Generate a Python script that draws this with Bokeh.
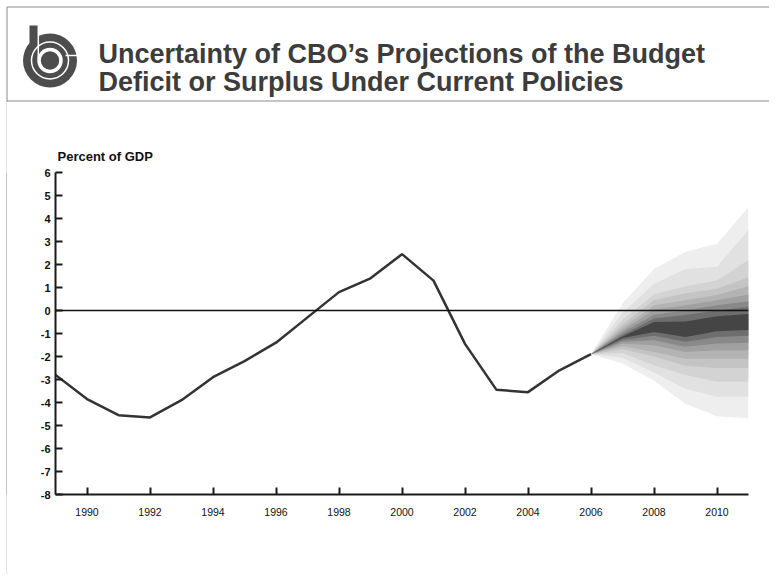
from bokeh.plotting import figure
from bokeh.models import Range1d, FixedTicker, Span
from bokeh.layouts import column, row
from bokeh.embed import file_html
from bokeh.resources import INLINE
from bokeh.core.properties import value

# ---------------- data ----------------
title_lines = ["Uncertainty of CBO\u2019s Projections of the Budget",
               "Deficit or Surplus Under Current Policies"]
y_unit_label = "Percent of GDP"

hist_years = [1989, 1990, 1991, 1992, 1993, 1994, 1995, 1996, 1997,
              1998, 1999, 2000, 2001, 2002, 2003, 2004, 2005, 2006]
hist_values = [-2.8, -3.85, -4.55, -4.65, -3.9, -2.9, -2.2, -1.4, -0.3,
               0.8, 1.4, 2.45, 1.3, -1.45, -3.45, -3.55, -2.6, -1.9]

fan_years = [2006, 2007, 2008, 2009, 2010, 2011]
# bands from outermost (lightest) to innermost (darkest)
fan_upper = [
    [-1.9, 0.3, 1.8, 2.55, 2.9, 4.5],
    [-1.9, -0.1, 1.15, 1.8, 1.9, 3.5],
    [-1.9, -0.4, 0.7, 1.05, 1.3, 2.2],
    [-1.9, -0.6, 0.45, 0.75, 0.95, 1.45],
    [-1.9, -0.75, 0.23, 0.45, 0.67, 1.05],
    [-1.9, -0.87, 0.04, 0.22, 0.45, 0.7],
    [-1.9, -0.97, -0.18, 0.0, 0.23, 0.4],
    [-1.9, -1.06, -0.35, -0.2, 0.0, 0.15],
    [-1.9, -1.13, -0.5, -0.48, -0.25, -0.15],
]
fan_lower = [
    [-1.9, -2.3, -3.05, -4.05, -4.6, -4.7],
    [-1.9, -2.05, -2.7, -3.4, -3.75, -3.75],
    [-1.9, -1.85, -2.38, -2.8, -3.1, -3.1],
    [-1.9, -1.68, -2.0, -2.4, -2.5, -2.5],
    [-1.9, -1.55, -1.8, -2.1, -2.1, -2.1],
    [-1.9, -1.45, -1.51, -1.8, -1.73, -1.73],
    [-1.9, -1.36, -1.29, -1.58, -1.43, -1.4],
    [-1.9, -1.28, -1.1, -1.36, -1.15, -1.1],
    [-1.9, -1.2, -0.93, -1.15, -0.9, -0.85],
]
fan_colors = ["#eeeeee", "#e1e1e1", "#d3d3d3", "#c4c4c4", "#b3b3b3",
              "#a0a0a0", "#898989", "#6e6e6e", "#454545"]

x_ticks = [1990, 1992, 1994, 1996, 1998, 2000, 2002, 2004, 2006, 2008, 2010]
y_ticks = [-8, -7, -6, -5, -4, -3, -2, -1, 0, 1, 2, 3, 4, 5, 6]

FONT = "Liberation Sans"
BORDER = "#8a8a8a"

W = 769          # total width
HH = 102         # header height
CH = 472         # chart height
PAD = 6          # white space left of the slide border


def blank(width, height, fill="white"):
    f = figure(width=width, height=height, x_range=Range1d(0, width),
               y_range=Range1d(height, 0),
               output_backend="svg", toolbar_location=None, min_border=0,
               x_axis_location=None, y_axis_location=None)
    f.grid.visible = False
    f.outline_line_color = None
    f.background_fill_color = fill
    f.border_fill_color = fill
    return f


# ---------------- header ----------------
hdr = blank(W, HH)
hdr.segment(x0=[6.5, 6.5, 6.5], y0=[6.5, 6.5, 100.5], x1=[W, 6.5, W], y1=[6.5, HH, 100.5],
            line_color=BORDER, line_width=1)

logo = "#4d4d4d"
cx, cy = 49.5, 60
hdr.quad(left=[29], right=[37.7], top=[25], bottom=[cy], fill_color=logo, line_color=None)
hdr.circle(x=[cx], y=[cy], radius=27, fill_color=logo, line_color=None)
hdr.circle(x=[cx], y=[cy], radius=18.5, fill_color=None, line_color="white", line_width=1.5)
hdr.circle(x=[cx], y=[cy], radius=11, fill_color=None, line_color="white", line_width=3.5)
hdr.segment(x0=[37.8, 65], y0=[25, 55], x1=[37.8, 78.5], y1=[58, 55],
            line_color="white", line_width=1.5)

hdr.text(x=[98, 98], y=[53.3, 81.7], text=title_lines, text_font=value(FONT),
         text_font_style="bold", text_font_size="27px", text_color="#3c3c3c",
         text_baseline="alphabetic", text_align="left")

# ---------------- left border (white pad + 1px grey line) ----------------
pad = blank(PAD, CH)
edge = blank(1, CH, fill=BORDER)

# ---------------- chart ----------------
p = figure(width=W - PAD - 1, height=CH, x_range=Range1d(1989, 2011), y_range=Range1d(-8, 6),
           output_backend="svg", toolbar_location=None,
           min_border_left=48, min_border_right=21, min_border_top=70, min_border_bottom=80)
p.grid.visible = False
p.outline_line_color = None

for up, lo, col in zip(fan_upper, fan_lower, fan_colors):
    p.varea(x=fan_years, y1=lo, y2=up, fill_color=col)

p.line(hist_years, hist_values, line_color="#333333", line_width=2.5)

p.add_layout(Span(location=0, dimension="width", line_color="#111111", line_width=1.6))

p.xaxis.ticker = FixedTicker(ticks=x_ticks)
p.yaxis.ticker = FixedTicker(ticks=y_ticks)
p.yaxis.major_label_overrides = {t: str(t) for t in y_ticks}
for ax in (p.xaxis[0], p.yaxis[0]):
    ax.axis_line_color = "#1a1a1a"
    ax.axis_line_width = 2
    ax.major_tick_line_color = "#1a1a1a"
    ax.major_tick_line_width = 2
    ax.major_tick_in = 7
    ax.major_tick_out = 0
    ax.minor_tick_line_color = None
    ax.major_label_text_font = FONT
    ax.major_label_text_color = "#111111"
p.xaxis.major_label_text_font_style = "normal"
p.xaxis.major_label_text_font_size = "10.5px"
p.yaxis.major_label_text_font_style = "bold"
p.yaxis.major_label_text_font_size = "11px"
p.xaxis.major_label_standoff = 13
p.yaxis.major_label_standoff = 5

p.title.text = y_unit_label
p.title.align = "left"
p.title.offset = 2
p.title.standoff = 17
p.title.text_font = FONT
p.title.text_font_style = "bold"
p.title.text_font_size = "13px"
p.title.text_color = "#111111"

layout = column(hdr, row(pad, edge, p, spacing=0), spacing=0)

with open("out.html", "w") as f:
    f.write(file_html(layout, INLINE))
